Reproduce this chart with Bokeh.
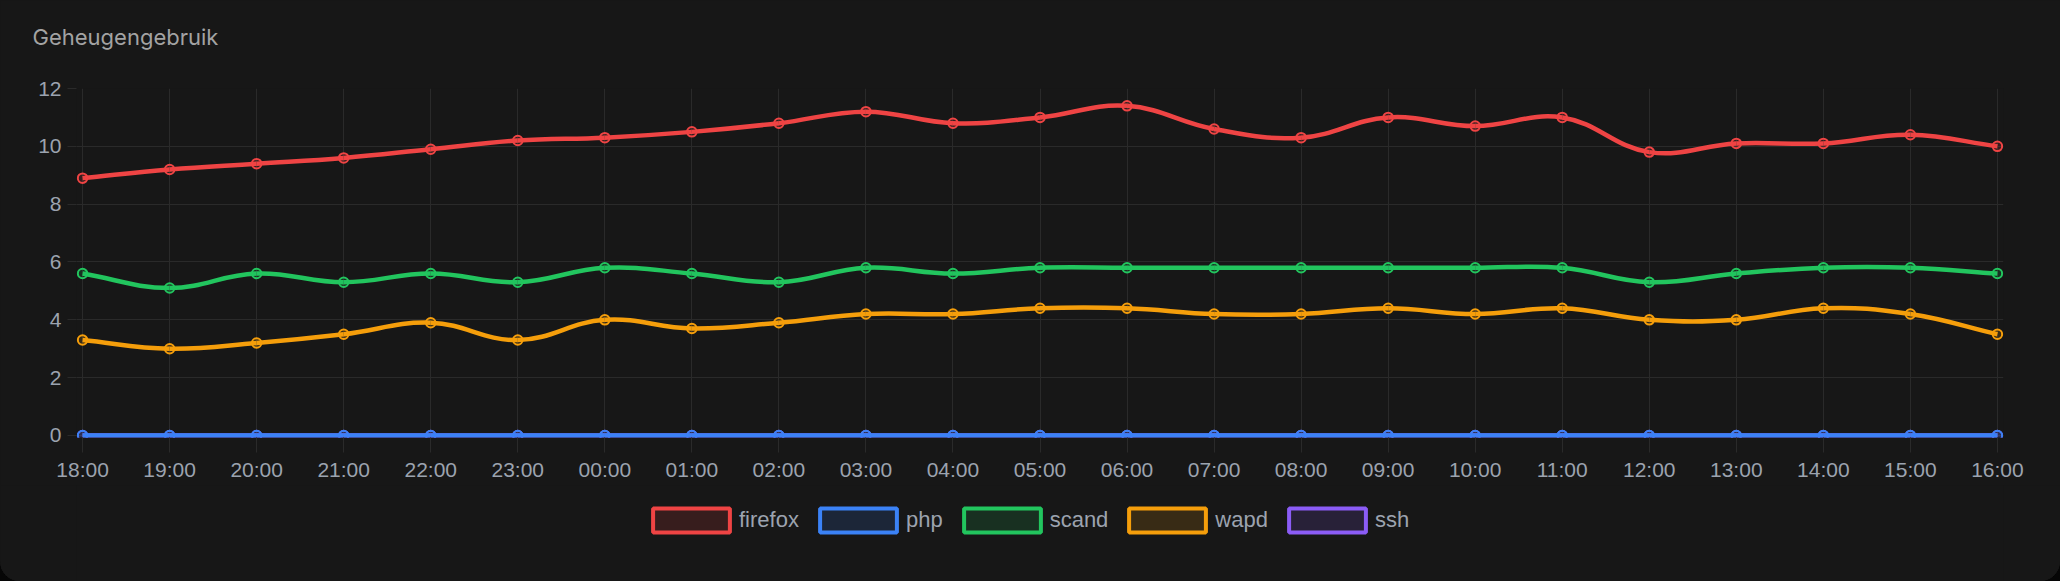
import math
from bokeh.plotting import figure
from bokeh.layouts import column
from bokeh.models import (Range1d, FixedTicker, Legend, LegendItem, Title,
                          GlobalInlineStyleSheet, InlineStyleSheet)
from bokeh.embed import file_html
from bokeh.resources import INLINE

# ---------------- data ----------------
hours = ["18:00", "19:00", "20:00", "21:00", "22:00", "23:00", "00:00", "01:00",
         "02:00", "03:00", "04:00", "05:00", "06:00", "07:00", "08:00", "09:00",
         "10:00", "11:00", "12:00", "13:00", "14:00", "15:00", "16:00"]
firefox = [8.9, 9.2, 9.4, 9.6, 9.9, 10.2, 10.3, 10.5, 10.8, 11.2, 10.8, 11.0,
           11.4, 10.6, 10.3, 11.0, 10.7, 11.0, 9.8, 10.1, 10.1, 10.4, 10.0]
php = [0, 0, 0, 0, 0, 0, 0, 0, 0, 0, 0, 0, 0, 0, 0, 0, 0, 0, 0, 0, 0, 0, 0]
scand = [5.6, 5.1, 5.6, 5.3, 5.6, 5.3, 5.8, 5.6, 5.3, 5.8, 5.6, 5.8,
         5.8, 5.8, 5.8, 5.8, 5.8, 5.8, 5.3, 5.6, 5.8, 5.8, 5.6]
wapd = [3.3, 3.0, 3.2, 3.5, 3.9, 3.3, 4.0, 3.7, 3.9, 4.2, 4.2, 4.4,
        4.4, 4.2, 4.2, 4.4, 4.2, 4.4, 4.0, 4.0, 4.4, 4.2, 3.5]
ssh = [0, 0, 0, 0, 0, 0, 0, 0, 0, 0, 0, 0, 0, 0, 0, 0, 0, 0, 0, 0, 0, 0, 0]
y_ticks = [0, 2, 4, 6, 8, 10, 12]
chart_title = "Geheugengebruik"

series_names = ["firefox", "php", "scand", "wapd", "ssh"]
series_values = [firefox, php, scand, wapd, ssh]
series_colors = ["#ef4444", "#3b82f6", "#22c55e", "#f59e0b", "#8b5cf6"]

# ---------------- styling constants ----------------
BG = "#171717"
GRID = "#2a2a2a"
TICK_TXT = "#9ca3af"
W = 2060
H_MAIN, H_LEG = 485, 96
PX_X, PX_Y = 87.05, 28.89   # pixels per data unit (used for the spline shape)
TENSION = 0.4
HOST_CSS = ":host { background: %s; }" % BG

x_idx = list(range(len(hours)))


def spline_segments(xs, ys):
    """Cubic bezier control points (Chart.js style spline, computed in pixel space)."""
    X = [x * PX_X for x in xs]
    Y = [y * PX_Y for y in ys]
    n = len(X)
    cl, cr = [], []
    for i in range(n):
        pi, ni = max(i - 1, 0), min(i + 1, n - 1)
        d01 = math.hypot(X[i] - X[pi], Y[i] - Y[pi])
        d12 = math.hypot(X[ni] - X[i], Y[ni] - Y[i])
        tot = d01 + d12
        s01 = d01 / tot if tot else 0.0
        s12 = d12 / tot if tot else 0.0
        fa, fb = TENSION * s01, TENSION * s12
        cl.append((X[i] - fa * (X[ni] - X[pi]), Y[i] - fa * (Y[ni] - Y[pi])))
        cr.append((X[i] + fb * (X[ni] - X[pi]), Y[i] + fb * (Y[ni] - Y[pi])))
    seg = dict(x0=[], y0=[], x1=[], y1=[], cx0=[], cy0=[], cx1=[], cy1=[])
    for i in range(n - 1):
        seg["x0"].append(xs[i]); seg["y0"].append(ys[i])
        seg["x1"].append(xs[i + 1]); seg["y1"].append(ys[i + 1])
        seg["cx0"].append(cr[i][0] / PX_X); seg["cy0"].append(cr[i][1] / PX_Y)
        seg["cx1"].append(cl[i + 1][0] / PX_X); seg["cy1"].append(cl[i + 1][1] / PX_Y)
    return seg


# ---------------- main chart ----------------
p = figure(width=W, height=H_MAIN, output_backend="svg", toolbar_location=None,
           x_range=Range1d(-0.07, len(hours) - 1 + 0.07),
           y_range=Range1d(-0.07, 12),
           min_border_left=76, min_border_right=57,
           min_border_top=88, min_border_bottom=48)
p.background_fill_color = BG
p.border_fill_color = BG
p.outline_line_color = None
p.stylesheets = [InlineStyleSheet(css=HOST_CSS)]

# title: an empty spacer panel next to the frame, then the visible title
p.title.text = ""
p.add_layout(Title(text=" ", text_font_size="1px", standoff=36), "above")
p.add_layout(Title(text=chart_title, text_font="Inter", text_font_size="22px",
                   text_font_style="normal", text_color="#a3a3a3",
                   align="left", offset=-44, standoff=0), "above")

# axes
p.xaxis.ticker = FixedTicker(ticks=x_idx)
p.xaxis.major_label_overrides = {i: h for i, h in zip(x_idx, hours)}
p.yaxis.ticker = FixedTicker(ticks=y_ticks)
for ax in (p.xaxis, p.yaxis):
    ax.axis_line_color = None
    ax.major_tick_line_color = GRID
    ax.major_tick_line_width = 1
    ax.major_tick_in = 0
    ax.minor_tick_line_color = None
    ax.major_label_text_color = TICK_TXT
    ax.major_label_text_font = "Liberation Sans"
    ax.major_label_text_font_size = "21px"
p.xaxis.major_tick_out = 15
p.xaxis.major_label_standoff = 5
p.yaxis.major_tick_out = 9
p.yaxis.major_label_standoff = 6

p.xgrid.ticker = FixedTicker(ticks=x_idx)
p.ygrid.ticker = FixedTicker(ticks=y_ticks)
p.grid.grid_line_color = GRID
p.grid.grid_line_width = 1

# series: drawn last-to-first so the first dataset is on top
for name, vals, col in reversed(list(zip(series_names, series_values, series_colors))):
    seg = spline_segments(x_idx, vals)
    p.bezier(x0=seg["x0"], y0=seg["y0"], x1=seg["x1"], y1=seg["y1"],
             cx0=seg["cx0"], cy0=seg["cy0"], cx1=seg["cx1"], cy1=seg["cy1"],
             line_color=col, line_width=4.5)
    p.scatter(x=x_idx, y=vals, size=9.5, marker="circle",
              line_color=col, line_width=2, fill_color=col, fill_alpha=0.15)

# ---------------- legend strip ----------------
lfig = figure(width=W, height=H_LEG, output_backend="svg", toolbar_location=None,
              x_range=Range1d(0, 1), y_range=Range1d(0, 1),
              x_axis_location=None, y_axis_location=None,
              min_border_left=76, min_border_right=57,
              min_border_top=0, min_border_bottom=0)
lfig.background_fill_color = BG
lfig.border_fill_color = BG
lfig.outline_line_color = None
lfig.grid.visible = False
lfig.stylesheets = [InlineStyleSheet(css=HOST_CSS)]

items = []
for name, vals, col in zip(series_names, series_values, series_colors):
    r = lfig.quad(left=x_idx, right=x_idx, bottom=vals, top=vals,
                  fill_color=col, fill_alpha=0.15, line_color=col, line_width=4,
                  visible=False)
    items.append(LegendItem(label=name, renderers=[r]))

legend = Legend(items=items, orientation="horizontal", location=(567, 46),
                glyph_width=96, glyph_height=30, label_standoff=0, spacing=11,
                padding=0, margin=0,
                background_fill_alpha=0, border_line_alpha=0,
                label_text_font="Liberation Sans", label_text_font_size="22px",
                label_text_color=TICK_TXT)
lfig.add_layout(legend, "center")

layout = column(p, lfig, spacing=0)
layout.stylesheets = [
    GlobalInlineStyleSheet(css="html, body { margin: 0; padding: 0; background: #060606; }"),
    InlineStyleSheet(css=":host { background: %s; border-radius: 0 0 20px 20px; overflow: hidden; }" % BG),
]

open("out.html", "w").write(file_html(layout, INLINE))
